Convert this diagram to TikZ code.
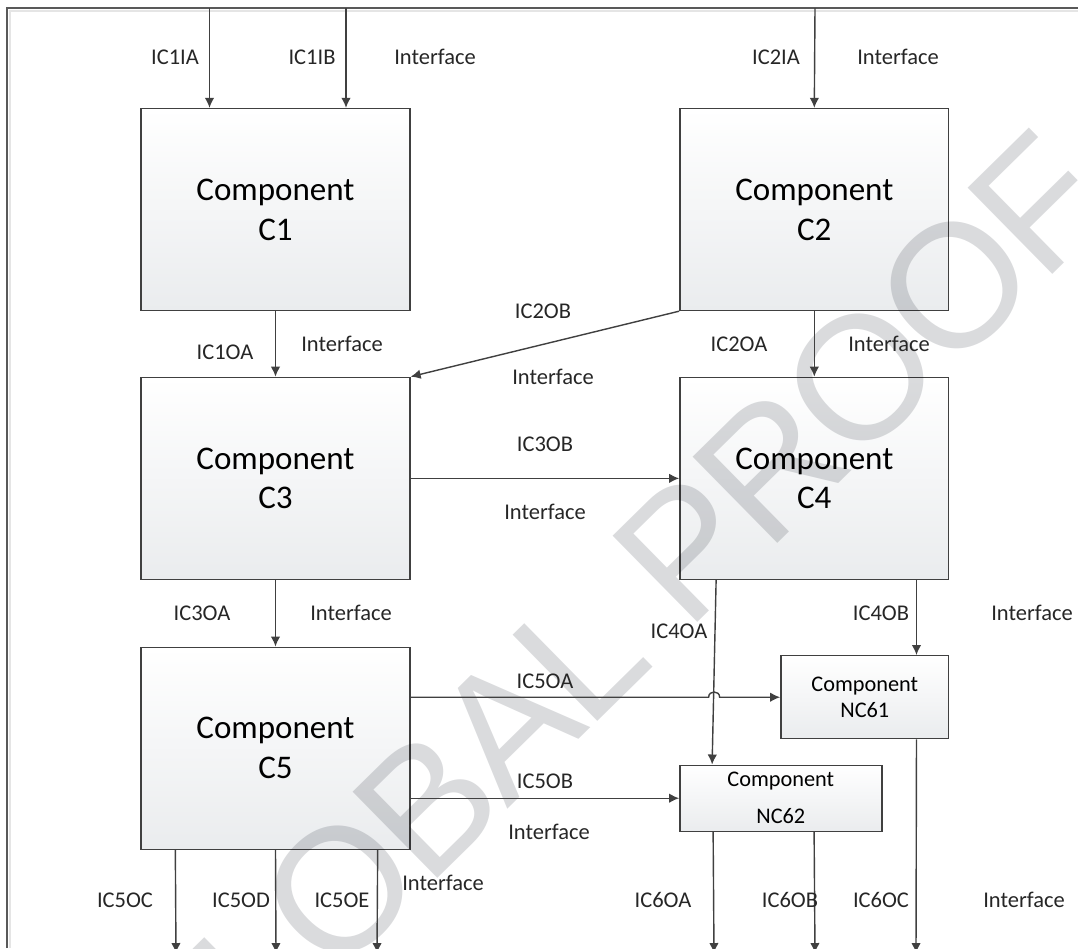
\documentclass[tikz,border=0pt]{standalone}
\usepackage{fontspec}
\setmainfont{Carlito}
\newfontfamily\markfont[LetterSpace=-3]{Liberation Sans}
\usetikzlibrary{arrows.meta,positioning}
\definecolor{linegray}{RGB}{64,64,64}
\definecolor{boxgray}{RGB}{234,236,238}
\definecolor{markgray}{RGB}{218,219,221}

\begin{document}
\begin{tikzpicture}[
    x=0.02cm, y=-0.02cm,
    every node/.style={font=\fontsize{12.8}{15}\selectfont, text=black!85},
    comp/.style={draw=linegray, line width=0.8pt, top color=white, bottom color=boxgray, align=center, minimum width=5.38cm, minimum height=4.04cm, inner sep=0pt, font=\fontsize{18.8}{22.7}\selectfont, text=black},
    subcomp/.style={comp, font=\fontsize{12.7}{14.7}\selectfont},
    flow/.style={-{Latex[length=2mm,width=1.9mm]}, draw=linegray, line width=0.8pt},
    frame/.style={draw=black!65, line width=0.9pt}
]
\useasboundingbox (0,0) rectangle (1078,948);
\clip (0,0) rectangle (1078,948);

% page frame
\draw[black!10, line width=1pt] (10,948) -- (10,11) -- (1078,11);
\draw[frame] (7,948) -- (7,8) -- (1078,8);

% components
\node[comp] (c1) at (275.5,209.5) {Component\\C1};
\node[comp, right=5.37cm of c1] (c2) {Component\\C2};
\node[comp, below=1.31cm of c1] (c3) {Component\\C3};
\node[comp, below=1.31cm of c2] (c4) {Component\\C4};
\node[comp, below=1.33cm of c3] (c5) {Component\\C5};
\node[subcomp, minimum width=3.36cm, minimum height=1.66cm, anchor=north east] (nc61) at ([yshift=-1.5cm]c4.south east) {Component\\NC61};
\node[subcomp, minimum width=4.04cm, minimum height=1.32cm, anchor=north west, font=\fontsize{12.7}{21}\selectfont] (nc62) at ([yshift=-3.69cm]c4.south west) {Component\\NC62};

% watermark
\begin{scope}[blend mode=multiply]
\node[text=markgray, font=\markfont\fontsize{100}{100}\selectfont, rotate=44.5] (mark) at (604,630) {GLOBAL PROOF};
\end{scope}

% free ends
\coordinate (i1a) at (209.5,8);
\coordinate (i1b) at (346,8);
\coordinate (i2a) at (815,8);
\coordinate (o5c) at (176,953);
\coordinate (o5d) at (276,953);
\coordinate (o5e) at (377,953);
\coordinate (o6a) at (714,953);
\coordinate (o6b) at (815,953);
\coordinate (o6c) at (916,953);
\path (c4.south west |- nc61.west) ++(35,0) coordinate (hop);

% interfaces
\draw[flow] (i1a) -- (i1a |- c1.north);
\draw[flow] (i1b) -- (i1b |- c1.north);
\draw[flow] (i2a) -- (c2.north);
\draw[flow] (c1) -- (c3);
\draw[flow] (c2.south west) -- (c3.north east);
\draw[flow] (c2) -- (c4);
\draw[flow] (c3) -- (c4);
\draw[flow] (c3) -- (c5);
\draw[flow] ([xshift=0.74cm]c4.south west) -- ([xshift=0.66cm]nc62.north west);
\draw[flow] ([xshift=-0.66cm]c4.south east) -- ([xshift=-0.66cm]nc61.north east);
\draw[flow] (c5.east |- nc61.west) -- ([xshift=-0.11cm]hop) .. controls ([xshift=-0.11cm,yshift=0.14cm]hop) and ([xshift=0.11cm,yshift=0.14cm]hop) .. ([xshift=0.11cm]hop) -- (nc61.west);
\draw[flow] (c5.east |- nc62.west) -- (nc62.west);
\draw[flow] ([xshift=0.7cm]c5.south west) -- (o5c);
\draw[flow] (c5.south) -- (o5d);
\draw[flow] ([xshift=-0.66cm]c5.south east) -- (o5e);
\draw[flow] ([xshift=0.68cm]nc62.south west) -- (o6a);
\draw[flow] ([xshift=2.7cm]nc62.south west) -- (o6b);
\draw[flow] ([xshift=-0.66cm]nc61.south east) -- (o6c);

% labels
\node (l1ia) at (175,57) {IC1IA};
\node (l1ib) at (312,57) {IC1IB};
\node (f1i) at (435,57) {Interface};
\node (l2ia) at (776,57) {IC2IA};
\node (f2i) at (898,57) {Interface};
\node (l1oa) at (225,352) {IC1OA};
\node (f1o) at (342,344) {Interface};
\node (l2ob) at (543,311) {IC2OB};
\node (f2ob) at (553,377) {Interface};
\node (l2oa) at (739,344) {IC2OA};
\node (f2oa) at (889,344) {Interface};
\node (l3ob) at (545,444) {IC3OB};
\node (f3ob) at (545,512) {Interface};
\node (l3oa) at (202,613) {IC3OA};
\node (f3oa) at (351,613) {Interface};
\node (l4oa) at (679,631) {IC4OA};
\node (l4ob) at (881,613) {IC4OB};
\node (f4o) at (1032,613) {Interface};
\node (l5oa) at (545,681) {IC5OA};
\node (l5ob) at (545,781) {IC5OB};
\node (f5ob) at (549,832) {Interface};
\node (l5oc) at (125,900) {IC5OC};
\node (l5od) at (241,900) {IC5OD};
\node (l5oe) at (342,900) {IC5OE};
\node (f5o) at (443,883) {Interface};
\node (l6oa) at (663,900) {IC6OA};
\node (l6ob) at (790,900) {IC6OB};
\node (l6oc) at (881,900) {IC6OC};
\node (f6o) at (1024,900) {Interface};
\end{tikzpicture}
\end{document}
